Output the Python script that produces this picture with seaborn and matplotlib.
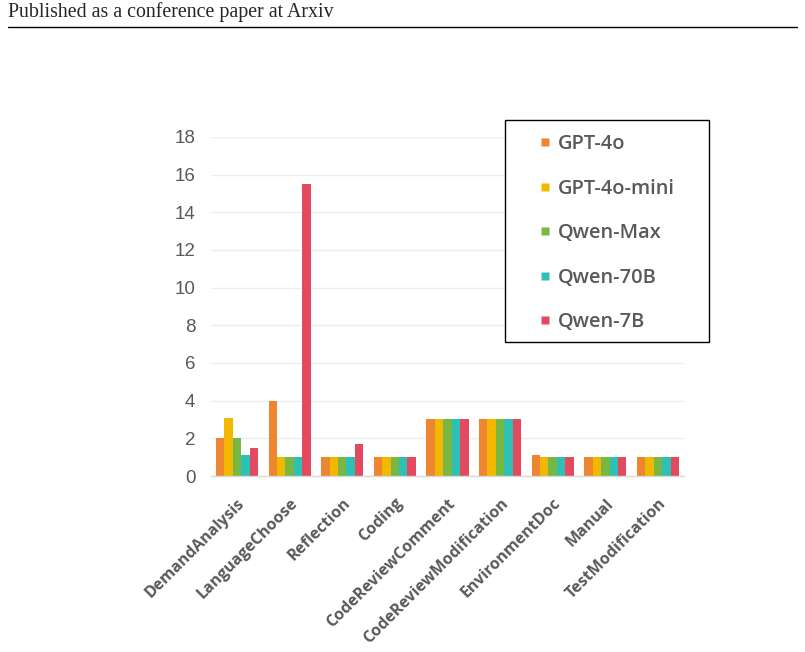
import numpy as np
import pandas as pd
import seaborn as sns
import matplotlib.pyplot as plt
from matplotlib.patches import Rectangle
from matplotlib.lines import Line2D

# 数据
stages = ['DemandAnalysis', 'LanguageChoose', 'Reflection', 'Coding', 'CodeReviewComment',
          'CodeReviewModification', 'EnvironmentDoc', 'Manual', 'TestModification']
models = ['GPT-4o', 'GPT-4o-mini', 'Qwen-Max', 'Qwen-70B', 'Qwen-7B']
gpt4o = [2.0, 4.0, 1.0, 1.0, 3.0, 3.0, 1.1, 1.0, 1.0]
gpt4o_mini = [3.1, 1.0, 1.0, 1.0, 3.0, 3.0, 1.0, 1.0, 1.0]
qwen_max = [2.0, 1.0, 1.0, 1.0, 3.0, 3.0, 1.0, 1.0, 1.0]
qwen_70b = [1.1, 1.0, 1.0, 1.0, 3.0, 3.0, 1.0, 1.0, 1.0]
qwen_7b = [1.5, 15.5, 1.7, 1.0, 3.0, 3.0, 1.0, 1.0, 1.0]
yticks = [0, 2, 4, 6, 8, 10, 12, 14, 16, 18]
colors = ['#EE8530', '#F2B800', '#76B843', '#2EC0B4', '#E44A5F']

values = [gpt4o, gpt4o_mini, qwen_max, qwen_70b, qwen_7b]
df = pd.DataFrame({
    'stage': np.tile(stages, len(models)),
    'model': np.repeat(models, len(stages)),
    'value': np.concatenate(values),
})

sns.set_style('white')
fig = plt.figure(figsize=(8.05, 6.52), dpi=100)
ax = fig.add_axes([0.2617, 0.2699, 0.5883, 0.5202])

sns.barplot(data=df, x='stage', y='value', hue='model', palette=colors, saturation=1,
            width=0.8, gap=0, ax=ax, legend=False)
for p in ax.patches:
    p.set_linewidth(0)

ax.set_ylim(0, 18)
ax.set_yticks(yticks)
ax.set_xlim(-0.5, len(stages) - 0.5)
ax.grid(axis='y', color='#EEEEEE', linewidth=1)
ax.set_axisbelow(True)
for s in ['top', 'right', 'left']:
    ax.spines[s].set_visible(False)
ax.spines['bottom'].set_color('#D9D9D9')
ax.spines['bottom'].set_linewidth(1)
ax.set_xlabel('')
ax.set_ylabel('')
ax.tick_params(axis='both', length=0)
ax.tick_params(axis='y', pad=11)
for t in ax.get_yticklabels():
    t.set_fontfamily('Liberation Sans')
    t.set_fontsize(13.5)
    t.set_color('#595959')
ax.set_xticks(range(len(stages)))
ax.set_xticklabels(stages, rotation=45, ha='right', rotation_mode='anchor',
                   fontfamily='Open Sans', fontweight='bold', fontsize=11.5, color='#595959')
ax.tick_params(axis='x', pad=14)

# 图例
fig.add_artist(Rectangle((505 / 805, 1 - 342 / 652), 204 / 805, 222 / 652,
                         transform=fig.transFigure, facecolor='white',
                         edgecolor='black', linewidth=1, zorder=5))
handles = [Line2D([], [], linestyle='none', marker='s', markersize=6.3,
                  markerfacecolor=c, markeredgecolor='none') for c in colors]
leg = fig.legend(handles, models, loc='upper left', bbox_to_anchor=(538 / 805, 1 - 134 / 652),
                 frameon=False, handlelength=0.7, handletextpad=0.3,
                 labelspacing=1.23, borderpad=0, borderaxespad=0,
                 prop={'family': 'Open Sans', 'weight': 'semibold', 'size': 14.4})
leg.set_zorder(6)
for t in leg.get_texts():
    t.set_color('#595959')

# 页眉
fig.text(8 / 805, 1 - 12 / 652, 'Published as a conference paper at Arxiv',
         fontfamily='Liberation Serif', fontsize=14.3, va='center', ha='left')
fig.add_artist(Line2D([8 / 805, 797 / 805], [1 - 27 / 652, 1 - 27 / 652],
                      color='black', linewidth=1))

fig.savefig('out.png', dpi=100)
